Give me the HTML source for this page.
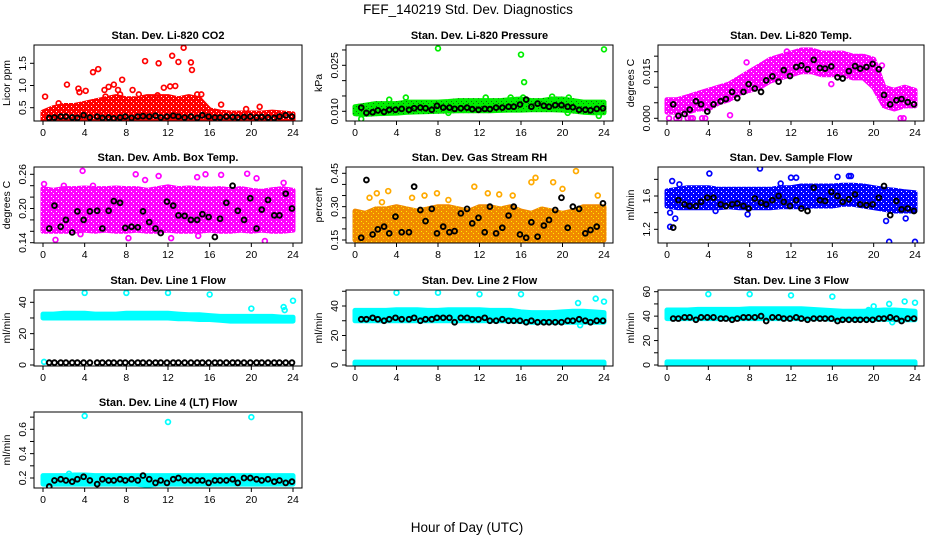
<!DOCTYPE html>
<html><head><meta charset="utf-8"><style>
html,body{margin:0;padding:0;background:#fff;}
svg{display:block;font-family:"Liberation Sans",Arial,sans-serif;}
.pt{font-weight:bold;font-size:11px;}
.tk{font-size:10.5px;}
</style></head><body>
<svg id="chart" width="936" height="540" viewBox="0 0 936 540" xmlns="http://www.w3.org/2000/svg">
<defs id="defs"></defs>
<text x="468" y="14" text-anchor="middle" font-size="13.5">FEF_140219  Std. Dev. Diagnostics</text>
<text x="467" y="532" text-anchor="middle" font-size="13.5">Hour of Day (UTC)</text>
</svg>
<script>
// ---- shared data ----
const hours = [0,1,2,3,4,5,6,7,8,9,10,11,12,13,14,15,16,17,18,19,20,21,22,23,24];
const blackX = [0.6,1.1,1.7,2.2,2.8,3.3,3.9,4.5,5.2,5.7,6.3,6.8,7.4,7.9,8.5,9.1,9.6,10.2,10.8,11.3,11.9,12.5,13.0,13.6,14.2,14.8,15.3,15.9,16.5,17.0,17.6,18.2,18.7,19.3,19.9,20.5,21.0,21.6,22.2,22.7,23.3,23.9];
const xTicks = [0,4,8,12,16,20,24];

// P1 CO2
const co2Lo = [0.22,0.22,0.22,0.22,0.22,0.22,0.22,0.22,0.22,0.22,0.22,0.22,0.22,0.22,0.22,0.22,0.22,0.22,0.22,0.22,0.22,0.22,0.22,0.22,0.22];
const co2Hi = [0.4,0.5,0.55,0.55,0.6,0.65,0.7,0.75,0.7,0.7,0.75,0.75,0.75,0.7,0.75,0.7,0.45,0.4,0.38,0.38,0.38,0.38,0.4,0.38,0.36];
const co2OutX = [0.2,2.3,3.4,3.5,4.8,5.3,4.1,5.9,6.3,6.8,7.2,7.4,7.6,8.6,9.8,11.1,11.6,12.2,12.4,12.7,13.0,13.5,14.2,14.3,14.8,15.2,17.1,19.5,20.8,1.5,6.0,9.2,10.2,11.0];
const co2OutY = [0.75,1.02,0.93,0.85,1.3,1.37,0.88,0.9,0.97,1.02,0.9,0.8,1.13,0.9,1.55,1.5,0.95,0.98,1.67,0.99,1.53,1.85,1.52,1.35,0.8,0.8,0.57,0.47,0.52,0.6,0.75,0.8,0.7,0.78];
const co2K = [0.27,0.28,0.3,0.3,0.28,0.27,0.33,0.28,0.3,0.27,0.28,0.26,0.28,0.3,0.27,0.3,0.31,0.3,0.32,0.28,0.3,0.32,0.3,0.28,0.3,0.27,0.33,0.3,0.28,0.28,0.3,0.29,0.28,0.29,0.3,0.28,0.29,0.28,0.27,0.3,0.33,0.3];
// P2 pressure
const presLo = [0.0092,0.009,0.0092,0.0093,0.0094,0.0097,0.0098,0.0099,0.01,0.0101,0.0102,0.0102,0.0102,0.0102,0.0103,0.0104,0.0104,0.0105,0.0105,0.0105,0.0104,0.0101,0.0097,0.0095,0.0095];
const presHi = [0.0115,0.012,0.0125,0.0125,0.0125,0.013,0.013,0.013,0.013,0.0132,0.0135,0.0135,0.0135,0.0135,0.0135,0.0138,0.014,0.0135,0.0135,0.014,0.014,0.0135,0.013,0.013,0.013];
const presOutX = [8,16,24,16.3,19,4.9,15,0.6,23.5,3.3,12.6,20.6,16.2,20.5,9.0];
const presOutY = [0.0305,0.0285,0.0302,0.0195,0.0148,0.0145,0.0145,0.0075,0.0085,0.0138,0.0145,0.0145,0.0145,0.0095,0.0095];
const presK = [0.0112,0.0095,0.0097,0.0103,0.0098,0.0105,0.0105,0.0108,0.0105,0.011,0.0112,0.011,0.0105,0.0118,0.0112,0.0112,0.0108,0.011,0.0112,0.0107,0.0105,0.0108,0.0107,0.0112,0.0112,0.0115,0.0115,0.0122,0.0138,0.0115,0.0125,0.0118,0.0115,0.012,0.012,0.0115,0.0113,0.0105,0.0105,0.0103,0.0108,0.011];
// P3 Li-820 temp
const tempLo = [0.002,0.002,0.002,0.003,0.003,0.005,0.006,0.008,0.009,0.010,0.012,0.013,0.014,0.015,0.015,0.014,0.014,0.014,0.013,0.013,0.010,0.004,0.003,0.004,0.004];
const tempHi = [0.006,0.006,0.007,0.008,0.009,0.010,0.011,0.013,0.015,0.017,0.019,0.020,0.021,0.022,0.022,0.021,0.021,0.021,0.020,0.020,0.019,0.010,0.009,0.010,0.009];
const tempOutX = [0.2,0.9,1.2,2.0,2.3,2.5,3.4,3.7,22.6,22.9,7.7,11.6,15.9,20.8,6.1];
const tempOutY = [0,0,0,0,0,0,0,0,0,0,0.018,0.0215,0.011,0.017,0.001];
const tempK = [0.0045,0.0008,0.0014,0.0028,0.0055,0.0045,0.0022,0.0045,0.0055,0.0062,0.0085,0.0065,0.0085,0.011,0.0096,0.0085,0.0122,0.0135,0.0118,0.0155,0.0136,0.0165,0.017,0.0158,0.0188,0.0162,0.016,0.0167,0.0132,0.0128,0.0152,0.0168,0.016,0.0165,0.0175,0.0158,0.0075,0.0045,0.0058,0.0062,0.0052,0.0045];
// P4 amb box temp
const ambLo = [0.16,0.16,0.16,0.16,0.162,0.16,0.162,0.16,0.16,0.162,0.16,0.16,0.162,0.16,0.16,0.16,0.162,0.16,0.16,0.162,0.16,0.162,0.16,0.16,0.162];
const ambHi = [0.235,0.232,0.235,0.235,0.236,0.235,0.235,0.236,0.235,0.235,0.232,0.235,0.238,0.235,0.236,0.235,0.234,0.235,0.233,0.235,0.232,0.23,0.233,0.235,0.232];
const ambOutX = [0.1,1.2,3.8,8.9,9.8,11.1,14.8,15.6,17.1,19.6,20.5,21.3,23.1,8.2,12.3,14.9,10.5,4.8,2.0,3.6];
const ambOutY = [0.243,0.145,0.266,0.26,0.25,0.257,0.255,0.26,0.259,0.261,0.253,0.143,0.245,0.148,0.148,0.152,0.17,0.24,0.24,0.155];
const ambK = [0.165,0.205,0.168,0.18,0.158,0.195,0.18,0.195,0.196,0.165,0.196,0.213,0.21,0.166,0.168,0.167,0.195,0.176,0.165,0.157,0.212,0.205,0.188,0.187,0.18,0.18,0.19,0.185,0.15,0.182,0.21,0.24,0.196,0.18,0.218,0.165,0.198,0.215,0.188,0.188,0.226,0.2];
// P5 RH
const rhLo = [0.15,0.148,0.15,0.15,0.148,0.15,0.15,0.15,0.148,0.15,0.15,0.15,0.15,0.15,0.15,0.15,0.15,0.15,0.15,0.15,0.15,0.15,0.15,0.15,0.15];
const rhHi = [0.28,0.27,0.29,0.29,0.3,0.29,0.28,0.29,0.3,0.3,0.29,0.28,0.3,0.3,0.29,0.3,0.28,0.27,0.29,0.28,0.27,0.28,0.3,0.3,0.3];
const rhOutX = [1.4,2.1,3.2,5.5,6.7,7.9,11.5,12.8,13.9,15.2,17.0,17.4,19.1,20.0,21.3,23.4,2.6,9.0];
const rhOutY = [0.34,0.36,0.37,0.34,0.35,0.36,0.39,0.36,0.355,0.35,0.41,0.43,0.41,0.38,0.46,0.35,0.32,0.33];
const rhK = [0.16,0.42,0.175,0.198,0.21,0.18,0.255,0.185,0.185,0.39,0.285,0.235,0.29,0.18,0.21,0.185,0.19,0.27,0.29,0.225,0.25,0.185,0.3,0.18,0.205,0.26,0.3,0.175,0.16,0.23,0.165,0.215,0.24,0.285,0.34,0.205,0.3,0.29,0.18,0.195,0.21,0.315];
// P6 sample flow
const flowLo = [1.48,1.46,1.46,1.46,1.46,1.46,1.47,1.46,1.46,1.46,1.46,1.47,1.47,1.47,1.48,1.48,1.48,1.5,1.5,1.48,1.46,1.44,1.42,1.42,1.42];
const flowHi = [1.66,1.68,1.7,1.7,1.7,1.68,1.68,1.68,1.68,1.68,1.68,1.7,1.7,1.72,1.72,1.72,1.72,1.73,1.73,1.72,1.7,1.68,1.67,1.65,1.64];
const flowOutX = [0.3,0.5,0.8,4.1,9.0,12.0,12.5,16.5,17.6,17.8,21.5,24,21.2,23.1,7.8,4.7,1.2,11.0,0.3];
const flowOutY = [1.23,1.78,1.33,1.87,1.93,1.82,1.82,1.83,1.84,1.84,1.05,1.05,1.3,1.33,1.38,1.42,1.74,1.75,1.4];
const flowK = [1.22,1.55,1.5,1.48,1.48,1.53,1.58,1.58,1.5,1.48,1.5,1.51,1.48,1.45,1.57,1.52,1.5,1.55,1.6,1.53,1.48,1.55,1.45,1.42,1.7,1.55,1.54,1.65,1.6,1.53,1.56,1.62,1.5,1.49,1.5,1.58,1.72,1.37,1.54,1.44,1.45,1.42];
// P7 line 1
const l1Lo = [30,30,30,30,30,30,30,30,30,30,30,30,30,29.5,29.5,29,29,28.5,28,28,28,28,28,28,28];
const l1Hi = [32.5,32.5,33,33,33,32.5,32.5,32.5,33,33,33,33,33,32.5,32,32,31.5,31,31,31,31,31,31,30.5,30.5];
const l1OutX = [4,8,12,16,20,23.1,23.2,24,0.1];
const l1OutY = [46,46,46,45,36,37,35,41,2];
const l1K = [1.5,1.5,1.5,1.5,1.5,1.5,1.5,1.5,1.5,1.5,1.5,1.5,1.5,1.5,1.5,1.5,1.5,1.5,1.5,1.5,1.5,1.5,1.5,1.5,1.5,1.5,1.5,1.5,1.5,1.5,1.5,1.5,1.5,1.5,1.5,1.5,1.5,1.5,1.5,1.5,1.5,1.5];
// P8 line 2
const l2Lo = [30,30,30,30,30,30,30,30,30,30,30,30,30,30,30,30,29.5,29,29,29,29,29,29,29,29];
const l2Hi = [37,37,37,37,37.5,37.5,37.5,37,37,37.5,37.5,37.5,37.5,37,37,37,36,35.5,35.5,35.5,36,36.5,36.5,36,35.5];
const l2BaseLo = [0,0,0,0,0,0,0,0,0,0,0,0,0,0,0,0,0,0,0,0,0,0,0,0,0];
const l2BaseHi = [2,2,2,2,2,2,2,2,2,2,2,2,2,2,2,2,2,2,2,2,2,2,2,2,2];
const l2OutX = [4,8,12,16,21.5,23.2,24,21.7];
const l2OutY = [49,49,48,48,42,45,43,27];
const l2K = [31,31,32,31,30,31,32,31,31,32,30,31,31,32,32,32,29,32,32,31,31,32,30,30,31,30,30,30,29,30,29,29,29,29,29,30,30,31,30,29,30,30];
// P9 line 3
const l3Lo = [38,38,38,38,38,38,38,38,38,38,38,38,38,38,38,38,37.5,37.5,37.5,37.5,37.5,37.5,37,37,37];
const l3Hi = [45,45,45,45.5,45.5,45.5,45.5,45.5,46,46,46,46,46,46,45.5,45,44.5,44,44,44,44.5,45,45,44.5,44];
const l3BaseLo = [0,0,0,0,0,0,0,0,0,0,0,0,0,0,0,0,0,0,0,0,0,0,0,0,0];
const l3BaseHi = [2.5,2.5,2.5,2.5,2.5,2.5,2.5,2.5,2.5,2.5,2.5,2.5,2.5,2.5,2.5,2.5,2.5,2.5,2.5,2.5,2.5,2.5,2.5,2.5,2.5];
const l3OutX = [4,8,12,16,20,21.5,23,24,21.8,19.5];
const l3OutY = [58,58,57,56,48,50,52,51,35,45];
const l3K = [38,38,39,39,37,39,39,39,38,38,37,38,39,39,39,40,36,39,39,38,38,39,38,37,38,38,38,38,36,37,37,37,37,37,37,38,38,39,38,36,38,38];
// P10 line 4
const l4Lo = [0.15,0.15,0.15,0.15,0.15,0.15,0.15,0.15,0.15,0.15,0.14,0.15,0.15,0.15,0.15,0.15,0.15,0.15,0.15,0.15,0.15,0.15,0.15,0.15,0.15];
const l4Hi = [0.22,0.22,0.22,0.225,0.225,0.22,0.22,0.22,0.22,0.22,0.22,0.22,0.22,0.22,0.22,0.22,0.22,0.22,0.22,0.22,0.22,0.22,0.22,0.22,0.22];
const l4OutX = [4,12,20,2.5];
const l4OutY = [0.71,0.66,0.70,0.235];
const l4K = [0.13,0.18,0.19,0.18,0.17,0.19,0.21,0.18,0.15,0.19,0.18,0.18,0.19,0.18,0.19,0.18,0.22,0.19,0.16,0.18,0.16,0.19,0.2,0.18,0.18,0.18,0.18,0.16,0.18,0.18,0.18,0.19,0.16,0.2,0.2,0.19,0.18,0.19,0.17,0.18,0.16,0.17];

// ---- layout ----
const NS = 'http://www.w3.org/2000/svg';
const svg = document.getElementById('chart');
const defs = document.getElementById('defs');
const COL_X0 = [43, 355, 667];
const COL_W = [250, 249, 248];
const ROW_TOP = [45, 167, 290, 412];
const BOX_H = 76;

function el(tag, attrs, parent) {
  const e = document.createElementNS(NS, tag);
  for (const k in attrs) e.setAttribute(k, attrs[k]);
  (parent || svg).appendChild(e);
  return e;
}

const panels = [
  {name:'co2', title:'Stan. Dev. Li-820 CO2', ylab:'Licor ppm', col:0, row:0, v1:0.5, p1:107.7, v2:1.5, p2:63.3,
   ticks:[0.5,1.0,1.5], labels:['0.5','1.0','1.5'], color:'#ff0000', fill:'#ff0000', speck:'#ffffff',
   bands:[[co2Lo,co2Hi]], outX:co2OutX, outY:co2OutY, k:co2K},
  {name:'pressure', title:'Stan. Dev. Li-820 Pressure', ylab:'kPa', col:1, row:0, v1:0.010, p1:111.3, v2:0.025, p2:65.3,
   ticks:[0.010,0.015,0.020,0.025,0.030], labels:['0.010','','','0.025',''], color:'#00ee00', fill:'#00ee00', speck:'#0a6a0a',
   bands:[[presLo,presHi]], outX:presOutX, outY:presOutY, k:presK},
  {name:'li820-temp', title:'Stan. Dev. Li-820 Temp.', ylab:'degrees C', col:2, row:0, v1:0, p1:118.3, v2:0.015, p2:71.7,
   ticks:[0,0.005,0.010,0.015,0.020], labels:['0.000','','','0.015',''], color:'#ff00ff', fill:'#ff00ff', speck:'#ffffff',
   bands:[[tempLo,tempHi]], outX:tempOutX, outY:tempOutY, k:tempK},
  {name:'amb-box-temp', title:'Stan. Dev. Amb. Box Temp.', ylab:'degrees C', col:0, row:1, v1:0.14, p1:242.7, v2:0.26, p2:174.3,
   ticks:[0.14,0.16,0.18,0.20,0.22,0.24,0.26], labels:['0.14','','','0.20','','','0.26'], color:'#ff00ff', fill:'#ff00ff', speck:'#ffffff',
   bands:[[ambLo,ambHi]], outX:ambOutX, outY:ambOutY, k:ambK},
  {name:'gas-rh', title:'Stan. Dev. Gas Stream RH', ylab:'percent', col:1, row:1, v1:0.15, p1:240, v2:0.45, p2:173.3,
   ticks:[0.15,0.20,0.25,0.30,0.35,0.40,0.45], labels:['0.15','','','0.30','','','0.45'], color:'#ffaa00', fill:'#f08a00', speck:'#ffee00',
   bands:[[rhLo,rhHi]], outX:rhOutX, outY:rhOutY, k:rhK},
  {name:'sample-flow', title:'Stan. Dev. Sample Flow', ylab:'ml/min', col:2, row:1, v1:1.2, p1:229.3, v2:1.6, p2:196,
   ticks:[1.2,1.4,1.6,1.8], labels:['1.2','','1.6',''], color:'#0000ff', fill:'#0000ff', speck:'#ffffff',
   bands:[[flowLo,flowHi]], outX:flowOutX, outY:flowOutY, k:flowK},
  {name:'line1-flow', title:'Stan. Dev. Line 1 Flow', ylab:'ml/min', col:0, row:2, v1:0, p1:365, v2:40, p2:302.3,
   ticks:[0,10,20,30,40], labels:['0','','20','','40'], color:'#00ffff', fill:'#00ffff', speck:'#00ffff',
   bands:[[l1Lo,l1Hi]], outX:l1OutX, outY:l1OutY, k:l1K},
  {name:'line2-flow', title:'Stan. Dev. Line 2 Flow', ylab:'ml/min', col:1, row:2, v1:0, p1:365, v2:40, p2:306,
   ticks:[0,10,20,30,40,50], labels:['0','','20','','40',''], color:'#00ffff', fill:'#00ffff', speck:'#00ffff',
   bands:[[l2Lo,l2Hi],[l2BaseLo,l2BaseHi]], outX:l2OutX, outY:l2OutY, k:l2K},
  {name:'line3-flow', title:'Stan. Dev. Line 3 Flow', ylab:'ml/min', col:2, row:2, v1:0, p1:365, v2:60, p2:291.7,
   ticks:[0,10,20,30,40,50,60], labels:['0','','20','','40','','60'], color:'#00ffff', fill:'#00ffff', speck:'#00ffff',
   bands:[[l3Lo,l3Hi],[l3BaseLo,l3BaseHi]], outX:l3OutX, outY:l3OutY, k:l3K},
  {name:'line4-flow', title:'Stan. Dev. Line 4 (LT) Flow', ylab:'ml/min', col:0, row:3, v1:0.2, p1:478, v2:0.6, p2:429.3,
   ticks:[0.2,0.3,0.4,0.5,0.6,0.7], labels:['0.2','','0.4','','0.6',''], color:'#00ffff', fill:'#00ffff', speck:'#00ffff',
   bands:[[l4Lo,l4Hi]], outX:l4OutX, outY:l4OutY, k:l4K}
];

panels.forEach(p => {
  const x0 = COL_X0[p.col], w = COL_W[p.col];
  const xs = h => x0 + h * w / 24;
  const ys = v => p.p1 + (v - p.v1) * (p.p2 - p.p1) / (p.v2 - p.v1);
  const top = ROW_TOP[p.row], bot = top + BOX_H;
  const bl = x0 - 9, br = x0 + w + 9;

  // speckle pattern for dense cloud
  const patId = 'pat-' + p.name;
  const pat = el('pattern', {id: patId, width: 5, height: 5, patternUnits: 'userSpaceOnUse'}, defs);
  el('rect', {x: 0, y: 0, width: 5, height: 5, fill: p.fill}, pat);
  el('rect', {x: 1, y: 1, width: 1, height: 1, fill: p.speck}, pat);
  el('rect', {x: 3, y: 3, width: 1, height: 1, fill: p.speck}, pat);

  const g = el('g', {});
  
  
  const clipId = 'clip-' + p.name;
  const cp = el('clipPath', {id: clipId}, g);
  el('rect', {x: bl, y: top, width: br - bl, height: bot - top}, cp);

  const t = el('text', {x: (bl + br) / 2, y: top - 6, 'text-anchor': 'middle', class: 'pt'}, g);
  t.textContent = p.title;
  
  
  const yl = el('text', {x: 0, y: 0, 'text-anchor': 'middle', class: 'tk', transform: `translate(${bl - 24},${(top + bot) / 2}) rotate(-90)`}, g);
  yl.textContent = p.ylab;
  
  

  const plot = el('g', {'clip-path': `url(#${clipId})`}, g);
  
  
  p.bands.forEach(([lo, hi]) => {
    let pts = hours.map((h, i) => xs(h).toFixed(1) + ',' + ys(hi[i]).toFixed(1));
    for (let i = hours.length - 1; i >= 0; i--) pts.push(xs(hours[i]).toFixed(1) + ',' + ys(lo[i]).toFixed(1));
    const b = el('polygon', {points: pts.join(' '), fill: `url(#${patId})`, stroke: `url(#${patId})`, 'stroke-width': 5, 'stroke-linejoin': 'round'}, plot);
    
    
  });
  p.outX.forEach((h, i) => {
    const c = el('circle', {cx: xs(h), cy: ys(p.outY[i]), r: 2.4, fill: 'none', stroke: p.color, 'stroke-width': 1.7}, plot);
    
    
  });
  blackX.forEach((h, i) => {
    const c = el('circle', {cx: xs(h), cy: ys(p.k[i]), r: 2.4, fill: 'none', stroke: '#000', 'stroke-width': 1.9}, plot);
    
    
  });

  const box = el('rect', {x: bl, y: top, width: br - bl, height: bot - top, fill: 'none', stroke: '#000', 'stroke-width': 1}, g);
  
  
  xTicks.forEach(h => {
    el('line', {x1: xs(h), x2: xs(h), y1: bot, y2: bot + 4, stroke: '#000'}, g);
    const tl = el('text', {x: xs(h), y: bot + 15, 'text-anchor': 'middle', class: 'tk'}, g);
    tl.textContent = String(h);
    
    
  });
  p.ticks.forEach((v, i) => {
    el('line', {x1: bl - 4, x2: bl, y1: ys(v), y2: ys(v), stroke: '#000'}, g);
    if (p.labels[i]) {
      const tl = el('text', {x: 0, y: 0, 'text-anchor': 'middle', class: 'tk', transform: `translate(${bl - 8},${ys(v)}) rotate(-90)`}, g);
      tl.textContent = p.labels[i];
      
      
    }
  });
});
</script>
</body></html>
